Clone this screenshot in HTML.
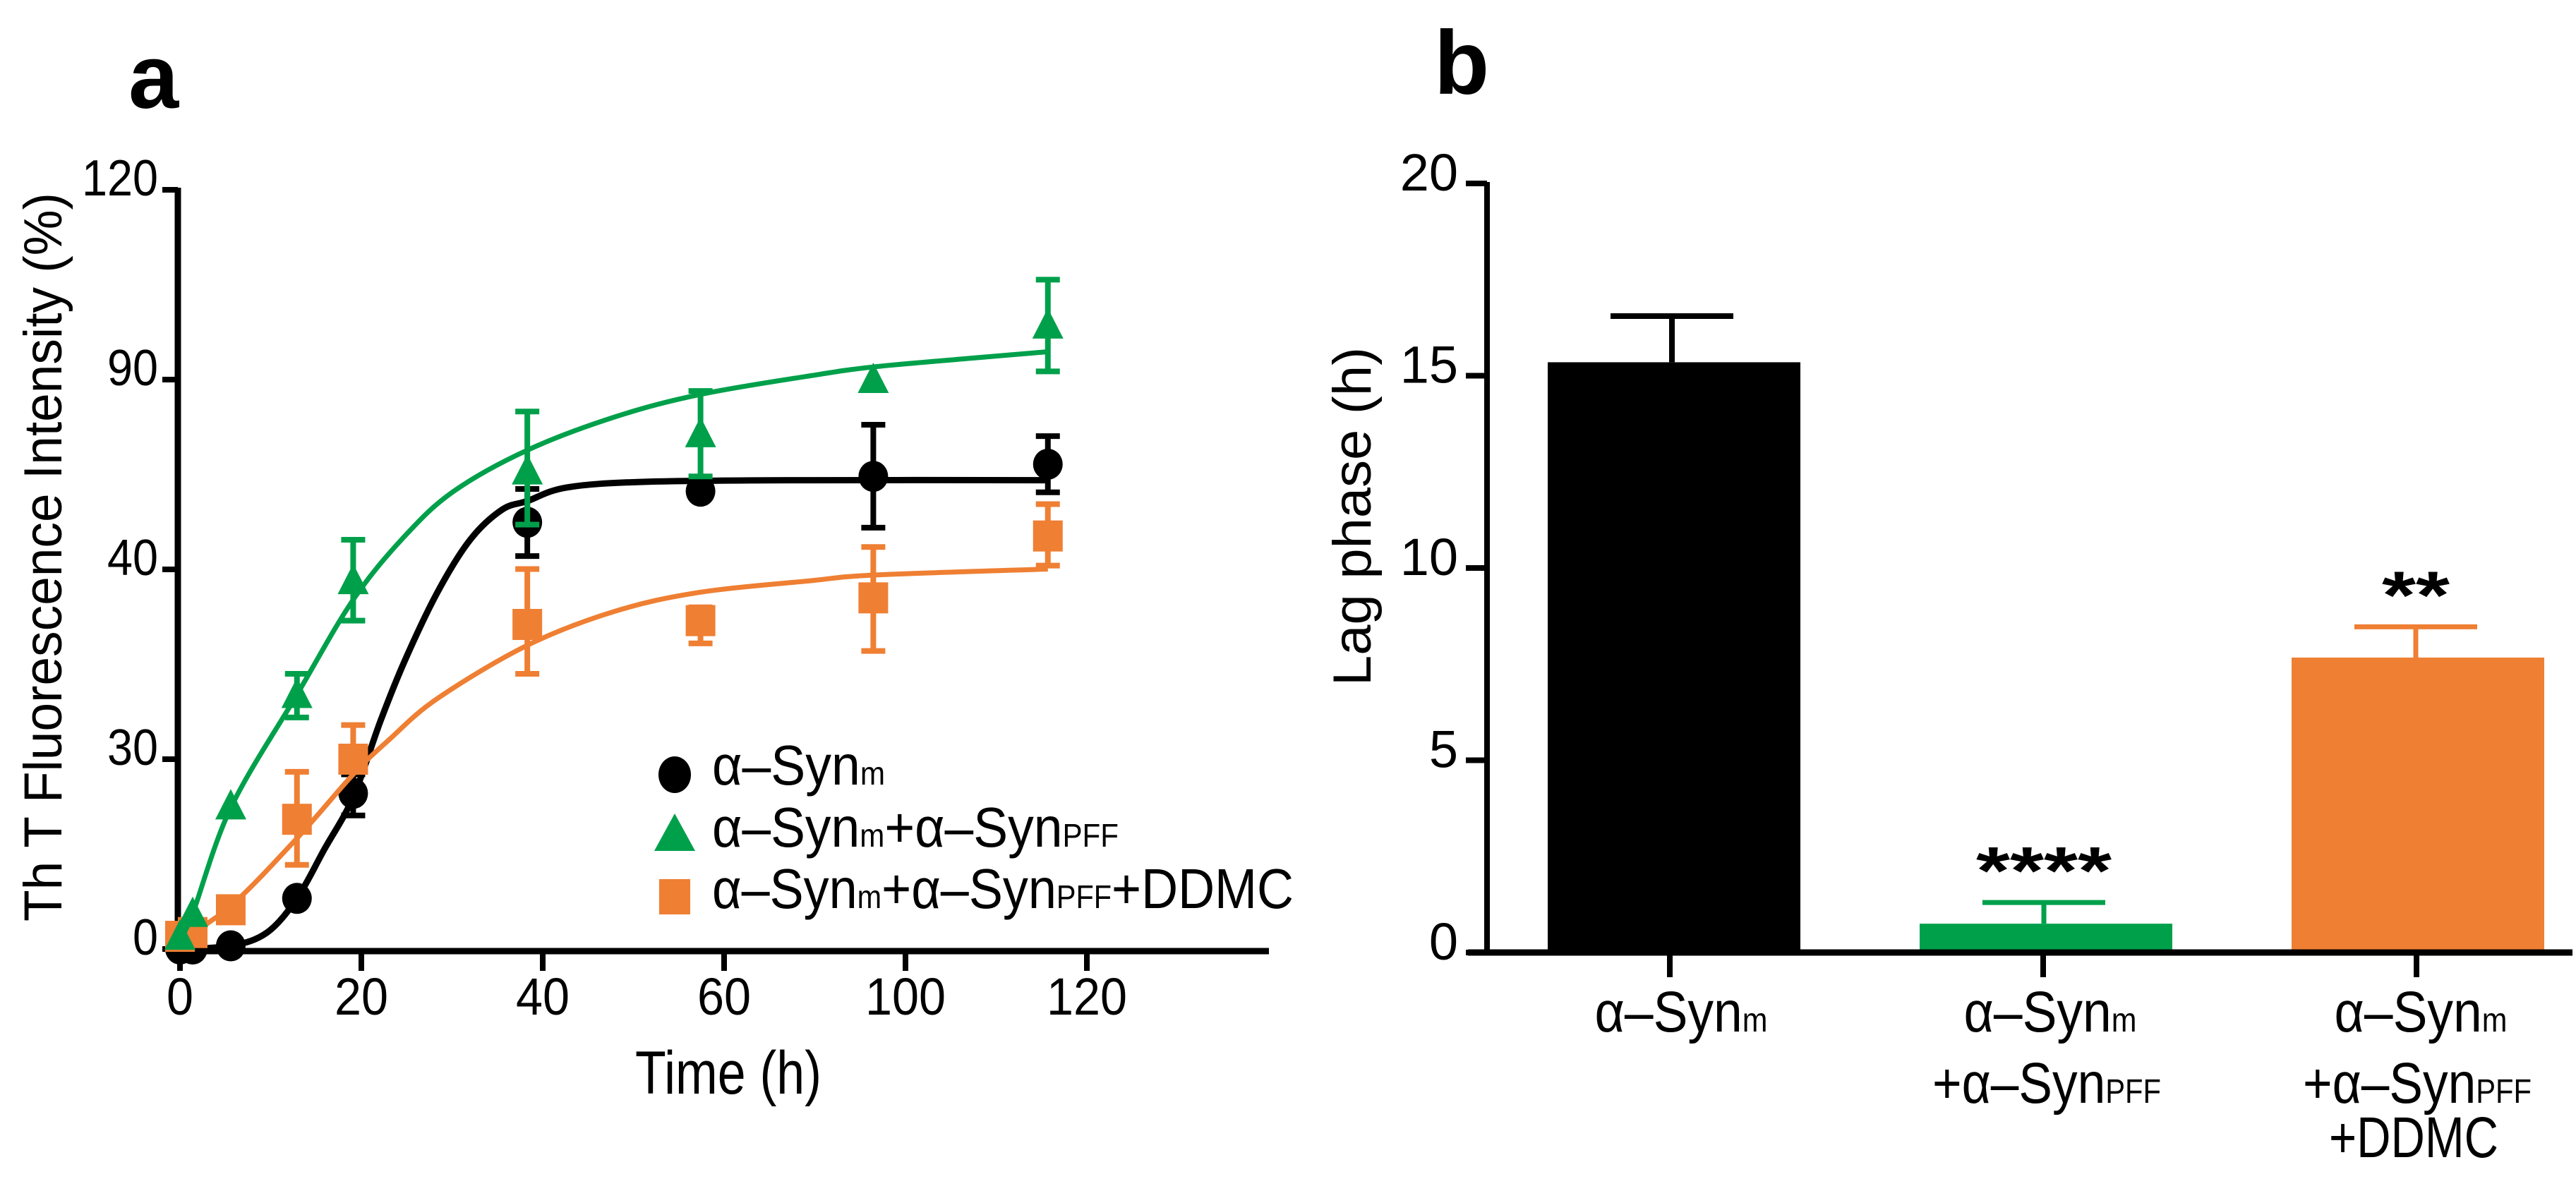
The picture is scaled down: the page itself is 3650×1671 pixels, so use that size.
<!DOCTYPE html>
<html><head><meta charset="utf-8">
<style>
html,body{margin:0;padding:0;background:#fff;}
svg{display:block;font-family:"Liberation Sans",Arial,sans-serif;}
</style></head>
<body>
<svg id="fig" width="3650" height="1671" viewBox="0 0 3650 1671" xmlns="http://www.w3.org/2000/svg">
<rect width="3650" height="1671" fill="#fff"/>
<text x="182" y="153" font-size="128" font-weight="bold">a</text>
<text x="2032" y="133" font-size="128" font-weight="bold">b</text>
<g id="pa"></g>
<g id="pb"></g>
<text transform="translate(87,1306) rotate(-90)" font-size="76" textLength="1033" lengthAdjust="spacingAndGlyphs">Th T Fluorescence Intensity (%)</text>
<text x="900" y="1550" font-size="86" textLength="264" lengthAdjust="spacingAndGlyphs">Time (h)</text>
<text transform="translate(1942,972) rotate(-90)" font-size="76" textLength="480" lengthAdjust="spacingAndGlyphs">Lag phase (h)</text>
<g>
  <ellipse cx="956" cy="1098" rx="23" ry="26" fill="#000"/>
  <text x="1009" y="1112" font-size="80" textLength="245" lengthAdjust="spacingAndGlyphs">α–Syn<tspan font-size="46">m</tspan></text>
  <polygon points="956,1153 985,1206 927,1206" fill="#00A04B"/>
  <text x="1009" y="1200" font-size="80" textLength="576" lengthAdjust="spacingAndGlyphs">α–Syn<tspan font-size="46">m</tspan>+α–Syn<tspan font-size="46">PFF</tspan></text>
  <rect x="934" y="1246" width="44" height="50" fill="#EF7F33"/>
  <text x="1009" y="1287" font-size="80" textLength="824" lengthAdjust="spacingAndGlyphs">α–Syn<tspan font-size="46">m</tspan>+α–Syn<tspan font-size="46">PFF</tspan>+DDMC</text>
</g>
<g>
  <text x="2382" y="1462" font-size="82" text-anchor="middle" textLength="245" lengthAdjust="spacingAndGlyphs">α–Syn<tspan font-size="48">m</tspan></text>
  <text x="2905" y="1462" font-size="82" text-anchor="middle" textLength="245" lengthAdjust="spacingAndGlyphs">α–Syn<tspan font-size="48">m</tspan></text>
  <text x="2900" y="1563" font-size="82" text-anchor="middle" textLength="324" lengthAdjust="spacingAndGlyphs">+α–Syn<tspan font-size="48">PFF</tspan></text>
  <text x="3430" y="1462" font-size="82" text-anchor="middle" textLength="245" lengthAdjust="spacingAndGlyphs">α–Syn<tspan font-size="48">m</tspan></text>
  <text x="3425" y="1563" font-size="82" text-anchor="middle" textLength="324" lengthAdjust="spacingAndGlyphs">+α–Syn<tspan font-size="48">PFF</tspan></text>
  <text x="3420" y="1640" font-size="82" text-anchor="middle" textLength="240" lengthAdjust="spacingAndGlyphs">+DDMC</text>
</g>
</svg>
<script>
// ---------- Panel a data ----------
const xTicks = [0, 20, 40, 60, 100, 120];
const yTicks = [0, 30, 40, 90, 120];
const times = [0, 1.4, 5.6, 12.9, 19.1, 38.3, 57.4, 92.9, 115.7];
const blackVals = [0, 0, 0.5, 8, 24.6, 52.4, 60.6, 64.5, 67.7];
const blackHi = [null, null, null, null, 27.6, 61.2, null, 78.1, 75.1];
const blackLo = [null, null, null, null, 21.1, 43.5, null, 51, 60.3];
const greenVals = [2, 5.6, 22.6, 33.4, 39.4, 65.9, 75.7, 90, 98.6];
const greenHi = [null, null, null, 34.5, 47.8, 81.6, 87, null, 105.8];
const greenLo = [null, null, null, 32.2, 37.3, 51.8, 64.5, null, 91.3];
const orangeVals = [2, 2.6, 6.2, 20.5, 30, 37.1, 37.3, 38.5, 48.8];
const orangeHi = [null, null, null, 28, 31.8, 40.1, 38, 45.9, 57.2];
const orangeLo = [null, null, null, 13.3, 28.2, 34.5, 36.1, 35.7, 41];
const blackCurveT = [0, 5.6, 9.6, 12.9, 15.9, 19.1, 22.1, 24.8, 28.4, 32, 35.5, 38.3, 42.7, 51.6, 79, 115.7];
const blackCurveV = [0, 0.5, 2.6, 8, 15.7, 24, 32, 35.2, 38.8, 47.8, 55.7, 58, 61.6, 63.1, 63.5, 63.5];
const greenCurveT = [0, 1.4, 5.6, 12.9, 19.1, 24.8, 30.2, 38.3, 48, 57.4, 79, 92.9, 107.4, 115.7];
const greenCurveV = [1.4, 5.6, 22.3, 33.4, 38.4, 48.8, 60.6, 71.4, 80.2, 86.1, 90.6, 92, 93.4, 94.4];
const orangeCurveT = [0, 5.6, 12.9, 19.1, 23, 28.4, 38.3, 48, 57.4, 79, 92.9, 115.7];
const orangeCurveV = [1.4, 6.8, 17.5, 27.6, 31, 33.2, 36, 37.8, 38.8, 39.4, 39.7, 40.1];
// ---------- Panel b data ----------
const barCats = ['syn-m', 'syn-m-pff', 'syn-m-pff-ddmc'];
const barVals = [15.35, 0.75, 7.67];
const barErr = [1.2, 0.55, 0.8];
const barStars = ['', '****', '**'];
const bTicks = [0, 5, 10, 15, 20];

const NS = 'http://www.w3.org/2000/svg';
function mk(parent, tag, attrs) {
  const e = document.createElementNS(NS, tag);
  for (const k in attrs) e.setAttribute(k, attrs[k]);
  parent.appendChild(e);
  return e;
}
function piece(ticks, p0, step, v) {
  let i = 0;
  while (i < ticks.length - 2 && v > ticks[i + 1]) i++;
  return p0 + step * (i + (v - ticks[i]) / (ticks[i + 1] - ticks[i]));
}
const X0 = 255, XSTEP = 257, Y0 = 1345, YSTEP = 269;
const xA = v => piece(xTicks, X0, XSTEP, v);
const yA = v => piece(yTicks, Y0, -YSTEP, v);

const pa = document.getElementById('pa');
// axes
let e;
e = mk(pa, 'line', {x1: 252, y1: 266, x2: 252, y2: 1352, stroke: '#000', 'stroke-width': 9});


e = mk(pa, 'line', {x1: 248, y1: 1348, x2: 1798, y2: 1348, stroke: '#000', 'stroke-width': 9});


yTicks.forEach(t => {
  const y = yA(t);
  e = mk(pa, 'line', {x1: 230, y1: y, x2: 252, y2: y, stroke: '#000', 'stroke-width': 8});
  
  
  e = mk(pa, 'text', {x: 224, y: y + 8, 'font-size': 72, 'text-anchor': 'end', textLength: 36 * String(t).length, lengthAdjust: 'spacingAndGlyphs'});
  e.textContent = t;
  
  
});
xTicks.forEach(t => {
  const x = xA(t);
  e = mk(pa, 'line', {x1: x, y1: 1348, x2: x, y2: 1376, stroke: '#000', 'stroke-width': 8});
  
  
  e = mk(pa, 'text', {x: x, y: 1438, 'font-size': 74, 'text-anchor': 'middle', textLength: 38 * String(t).length, lengthAdjust: 'spacingAndGlyphs'});
  e.textContent = t;
  
  
});
function curvePath(T, V) {
  const p = T.map((t, i) => [xA(t), yA(V[i])]);
  let d = 'M' + p[0][0] + ',' + p[0][1];
  for (let i = 0; i < p.length - 1; i++) {
    const a = p[Math.max(0, i - 1)], b = p[i], c = p[i + 1], n = p[Math.min(p.length - 1, i + 2)];
    const c1 = [b[0] + (c[0] - a[0]) / 6, b[1] + (c[1] - a[1]) / 6];
    const c2 = [c[0] - (n[0] - b[0]) / 6, c[1] - (n[1] - b[1]) / 6];
    d += ' C' + c1[0] + ',' + c1[1] + ' ' + c2[0] + ',' + c2[1] + ' ' + c[0] + ',' + c[1];
  }
  return d;
}
const series = [
  {name: 'syn-m', color: '#000', vals: blackVals, hi: blackHi, lo: blackLo, ct: blackCurveT, cv: blackCurveV, shape: 'circle', lw: 9},
  {name: 'syn-pff-ddmc', color: '#EF7F33', vals: orangeVals, hi: orangeHi, lo: orangeLo, ct: orangeCurveT, cv: orangeCurveV, shape: 'square', lw: 7},
  {name: 'syn-pff', color: '#00A04B', vals: greenVals, hi: greenHi, lo: greenLo, ct: greenCurveT, cv: greenCurveV, shape: 'triangle', lw: 7}
];
series.forEach(s => {
  const g = mk(pa, 'g', {});
  
  
  e = mk(g, 'path', {d: curvePath(s.ct, s.cv), fill: 'none', stroke: s.color, 'stroke-width': s.lw});
  
  
  times.forEach((t, i) => {
    const x = xA(t), y = yA(s.vals[i]);
    if (s.hi[i] != null) {
      const yh = yA(s.hi[i]), yl = yA(s.lo[i]);
      e = mk(g, 'path', {d: `M${x},${yh}V${yl}M${x - 17},${yh}H${x + 17}M${x - 17},${yl}H${x + 17}`, stroke: s.color, 'stroke-width': 8, fill: 'none'});
      
      
    }
    if (s.shape === 'circle') e = mk(g, 'ellipse', {cx: x, cy: y, rx: 21, ry: 22, fill: s.color});
    else if (s.shape === 'square') e = mk(g, 'rect', {x: x - 21, y: y - 22, width: 42, height: 44, fill: s.color});
    else e = mk(g, 'polygon', {points: `${x},${y - 24} ${x + 22},${y + 19} ${x - 22},${y + 19}`, fill: s.color});
    
    
  });
});

// ---------- Panel b ----------
const pb = document.getElementById('pb');
const BY0 = 1350, BSTEP = 272.5 / 5;
const yB = v => BY0 - v * BSTEP;
const catX = [2366, 2895, 3424];
const barW = 358;
const barColors = ['#000', '#00A04B', '#EF7F33'];
e = mk(pb, 'line', {x1: 2107, y1: 258, x2: 2107, y2: 1354, stroke: '#000', 'stroke-width': 8});


bTicks.forEach(t => {
  const y = yB(t);
  e = mk(pb, 'line', {x1: 2077, y1: y, x2: 2107, y2: y, stroke: '#000', 'stroke-width': 8});
  
  
  e = mk(pb, 'text', {x: 2066, y: y + 10, 'font-size': 74, 'text-anchor': 'end'});
  e.textContent = t;
  
  
});
barCats.forEach((c, i) => {
  const cx = catX[i] + (i === 0 ? 6 : (i === 1 ? 4 : 2));
  const top = yB(barVals[i]);
  e = mk(pb, 'rect', {x: cx - barW / 2, y: top, width: barW, height: BY0 - top, fill: barColors[i]});
  
  
  const ye = yB(barVals[i] + barErr[i]);
  e = mk(pb, 'path', {d: `M${cx - 3},${top}V${ye}M${cx - 90},${ye}H${cx + 84}`, stroke: barColors[i], 'stroke-width': i === 0 ? 8 : 7, fill: 'none'});
  
  
  if (barStars[i]) {
    e = mk(pb, 'text', {x: cx - 3, y: ye - 12, 'font-size': 96, 'font-weight': 'bold', 'text-anchor': 'middle', textLength: 48 * barStars[i].length, lengthAdjust: 'spacingAndGlyphs'});
    e.textContent = barStars[i];
    
    
  }
  e = mk(pb, 'line', {x1: catX[i], y1: 1350, x2: catX[i], y2: 1385, stroke: '#000', 'stroke-width': 8});
  
  
});
e = mk(pb, 'line', {x1: 2080, y1: 1350, x2: 3645, y2: 1350, stroke: '#000', 'stroke-width': 9});


</script>
</body></html>
